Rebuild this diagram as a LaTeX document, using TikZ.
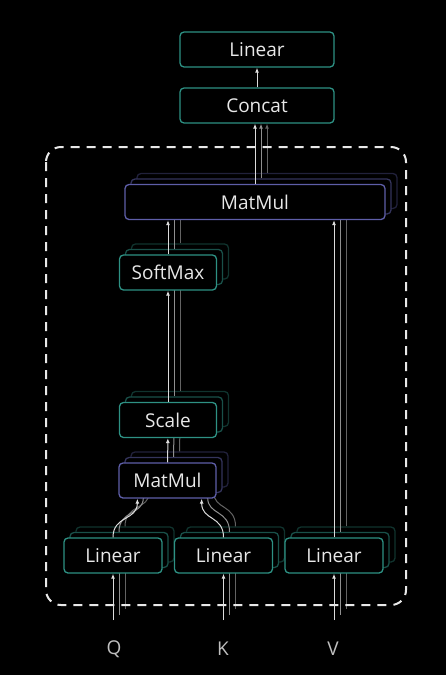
\documentclass[tikz,border=0pt]{standalone}
\usepackage{fontspec}
\setmainfont{Open Sans}
\usetikzlibrary{arrows.meta, positioning}
\definecolor{tealline}{HTML}{2E9184}
\definecolor{purpline}{HTML}{5E5EA8}
\definecolor{arrowgray}{HTML}{DCDCDC}
\definecolor{textgray}{HTML}{E8E8E8}
\definecolor{labelgray}{HTML}{BFBFBF}
\newcommand{\headtext}[1]{\ifnum\k=0 #1\fi}
\tikzset{
  block/.style={draw=bordc, fill=black, rounded corners=4pt, line width=1.3pt,
    text=textgray, font=\fontsize{19}{22}\selectfont, minimum height=35pt, inner sep=0pt},
  mulblock/.style={block, draw=mulc},
  flow/.style={->, draw=linec, line width=1pt},
  inlabel/.style={text=labelgray, font=\fontsize{19}{22}\selectfont},
}

\begin{document}
\begin{tikzpicture}[x=1pt, y=-1pt, >={Latex[length=5pt, width=4pt]}]
      \fill[black] (0,0) rectangle (446,675);
      \useasboundingbox (0,0) rectangle (446,675);
      \colorlet{bordc}{tealline}
      \colorlet{linec}{arrowgray}
      \node (lin)[block, minimum width=154pt] at (257, 49.5) {Linear};
      \node (concat)[block, minimum width=154pt] at (257, 105.5) {Concat};
      \draw[flow] (concat) -- (lin);
      % heads, back ones first
      \foreach \k/\bshade/\lshade in {2/35/45, 1/55/65, 0/100/100} {
        \colorlet{bordc}{tealline!\bshade!black}
        \colorlet{mulc}{purpline!\bshade!black}
        \colorlet{linec}{arrowgray!\lshade!black}
        \begin{scope}[shift={(6*\k, -5.5*\k)}]
          \coordinate (qin\k) at (113, 620);
          \coordinate (kin\k) at (223.5, 620);
          \coordinate (vin\k) at (334, 620);
          \node (lq\k)[block, minimum width=98pt] at (113, 555.5) {\headtext{Linear}};
          \node (lk\k)[block, minimum width=98pt] at (223.5, 555.5) {\headtext{Linear}};
          \node (lv\k)[block, minimum width=98pt] at (334, 555.5) {\headtext{Linear}};
          \node (mm\k)[mulblock, minimum width=97pt] at (167.5, 480.5) {\headtext{MatMul}};
          \node (sc\k)[block, minimum width=97pt] at (168, 420) {\headtext{Scale}};
          \node (sm\k)[block, minimum width=97pt] at (168, 272.5) {\headtext{SoftMax}};
          \node (mb\k)[mulblock, minimum width=260pt] at (255, 202) {\headtext{MatMul}};
          \draw[flow] (qin\k) -- (lq\k.south);
          \draw[flow] (kin\k) -- (lk\k.south);
          \draw[flow] (vin\k) -- (lv\k.south);
          \draw[flow] (lq\k.north) .. controls +(0,-22) and +(0,22) .. ([xshift=19pt]mm\k.south west);
          \draw[flow] (lk\k.north) .. controls +(0,-22) and +(0,22) .. ([xshift=-15pt]mm\k.south east);
          \draw[flow] (mm\k) -- (sc\k);
          \draw[flow] (sc\k) -- (sm\k);
          \draw[flow] (sm\k.north) -- (sm\k.north |- mb\k.south);
          \draw[flow] (lv\k.north) -- (lv\k.north |- mb\k.south);
          \draw[flow] (mb\k.north) -- (mb\k.north |- concat.south);
        \end{scope}
      }
      \draw[textgray, line width=2pt, dash pattern=on 9pt off 7pt, rounded corners=15pt]
        (46, 147) rectangle (406, 605);
      \node (q)[inlabel] at (114, 649) {Q};
      \node (k)[inlabel] at (223, 649) {K};
      \node (v)[inlabel] at (333, 649) {V};
    \end{tikzpicture}
\end{document}
